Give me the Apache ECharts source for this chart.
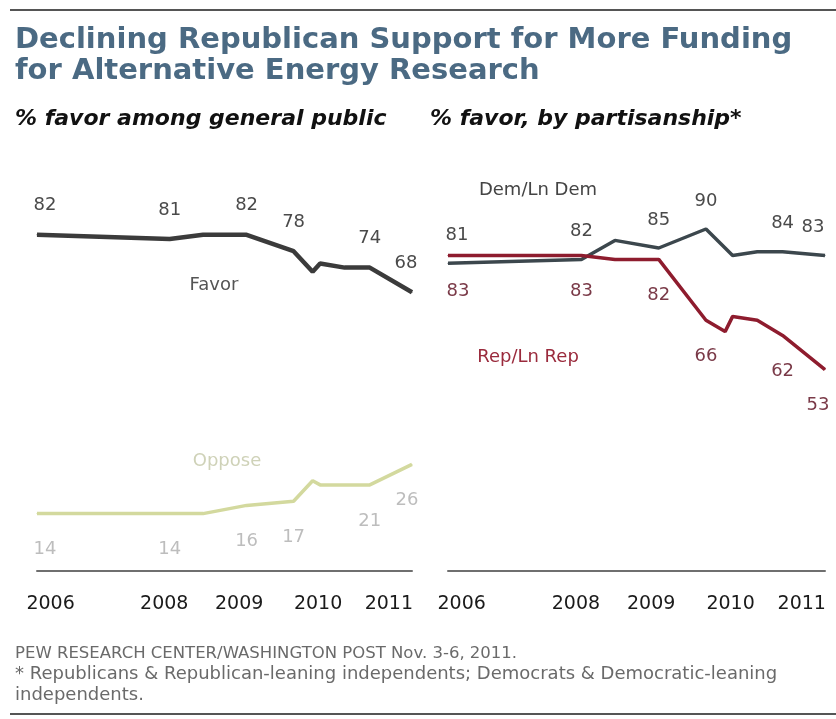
<!DOCTYPE html>
<html><head><meta charset="utf-8">
<script src="https://cdn.jsdelivr.net/npm/echarts@6/dist/echarts.min.js"></script>
<style>html,body{margin:0;padding:0;background:#fff}#c{width:836px;height:719px}</style>
</head><body><div id="c"></div>
<script>
// Survey dates as decimal years
const surveyDates = [2006.33, 2008.28, 2008.77, 2009.41, 2010.10, 2010.38, 2010.49, 2010.85, 2011.22, 2011.84];
// % favor among general public
const favor  = [82, 81, 82, 82, 78, 73, 75, 74, 74, 68];
const oppose = [14, 14, 14, 16, 17, 22, 21, 21, 21, 26];
// % favor, by partisanship
const dem = [81, 82, 87, 85, 90, 85, 83, 84, 84, 83];
const rep = [83, 83, 82, 82, 66, 63, 67, 66, 62, 53];
// which survey points carry a value label
const labeledIdx = [0, 1, 3, 4, 8, 9];
// x-axis tick labels and where they sit
const tickLabels = ['2006', '2008', '2009', '2010', '2011'];
const tickPos = [2006.53, 2008.20, 2009.30, 2010.46, 2011.50];

const chart = echarts.init(document.getElementById('c'));
const numFont = 'DejaVu Sans';

function mkData(vals, color, dy, dxFirst, dxLast) {
  return vals.map((v, i) => {
    const show = labeledIdx.indexOf(i) >= 0;
    let dx = 0;
    if (i === 0) dx = dxFirst;
    if (i === vals.length - 1) dx = dxLast;
    return {
      value: [surveyDates[i], v],
      label: { show: show, position: 'inside', offset: [dx, dy], color: color,
               fontFamily: numFont, fontSize: 18 }
    };
  });
}
function mkSeries(name, vals, lineColor, width, labColor, dy, dxF, dxL, gi) {
  return {
    name: name, type: 'line', xAxisIndex: gi, yAxisIndex: gi,
    data: mkData(vals, labColor, dy, dxF, dxL),
    symbol: 'circle', symbolSize: 1, showSymbol: true,
    itemStyle: { color: lineColor },
    lineStyle: { color: lineColor, width: width },
    silent: true, animation: false, z: name === 'Rep/Ln Rep' ? 3 : 2
  };
}
const xAx = (gi) => ({
  type: 'value', gridIndex: gi, min: surveyDates[0], max: surveyDates[surveyDates.length - 1],
  splitLine: { show: false },
  axisLine: { show: true, lineStyle: { color: '#6f6f6f', width: 2 } },
  axisTick: { show: false },
  axisLabel: {
    customValues: tickPos, showMinLabel: true, showMaxLabel: true,
    formatter: (v) => tickLabels[tickPos.indexOf(v)] ?? '',
    color: '#1a1a1a', fontFamily: numFont, fontSize: 19, margin: 24
  }
});
const yAx = (gi) => ({ type: 'value', gridIndex: gi, min: 0, max: 100, show: false, splitLine: { show: false } });

chart.setOption({
  animation: false,
  backgroundColor: '#fff',
  grid: [
    { left: 37, right: 424, top: 161, bottom: 148 },
    { left: 448, right: 11, top: 191, bottom: 148 }
  ],
  xAxis: [xAx(0), xAx(1)],
  yAxis: [yAx(0), yAx(1)],
  series: [
    mkSeries('Favor', favor, '#3b3b3b', 4.5, '#4a4a4a', -29, 8, -6, 0),
    mkSeries('Oppose', oppose, '#d3d99e', 3.5, '#bdbdbd', 36, 8, -5, 0),
    mkSeries('Dem/Ln Dem', dem, '#3c474d', 3.5, '#4a4a4a', -28, 9, -12, 1),
    mkSeries('Rep/Ln Rep', rep, '#8e1c2e', 3.5, '#7a3a48', 36, 10, -7, 1)
  ],
  graphic: [
    { type: 'rect', shape: { x: 10, y: 9, width: 826, height: 2 }, style: { fill: '#555' } },
    { type: 'text', left: 15, top: 25, style: { text: 'Declining Republican Support for More Funding\nfor Alternative Energy Research',
      font: 'bold 29px "DejaVu Sans"', fill: '#4b6a83', lineHeight: 31 } },
    { type: 'text', left: 15, top: 108, style: { text: '% favor among general public',
      font: 'italic bold 22px "DejaVu Sans"', fill: '#111' } },
    { type: 'text', left: 430, top: 108, style: { text: '% favor, by partisanship*',
      font: 'italic bold 22px "DejaVu Sans"', fill: '#111' } },
    { type: 'text', x: 214, y: 285, style: { text: 'Favor', font: '18px "DejaVu Sans"', fill: '#555', align: 'center', verticalAlign: 'middle' } },
    { type: 'text', x: 227, y: 461, style: { text: 'Oppose', font: '18px "DejaVu Sans"', fill: '#cfd2b8', align: 'center', verticalAlign: 'middle' } },
    { type: 'text', x: 538, y: 190, style: { text: 'Dem/Ln Dem', font: '18px "DejaVu Sans"', fill: '#444', align: 'center', verticalAlign: 'middle' } },
    { type: 'text', x: 528, y: 357, style: { text: 'Rep/Ln Rep', font: '18px "DejaVu Sans"', fill: '#9a2a3c', align: 'center', verticalAlign: 'middle' } },
    { type: 'text', left: 15, top: 645, style: { text: 'PEW RESEARCH CENTER/WASHINGTON POST Nov. 3-6, 2011.',
      font: '16.5px "DejaVu Sans"', fill: '#6a6a6a' } },
    { type: 'text', left: 15, top: 664, style: { text: '* Republicans & Republican-leaning independents; Democrats & Democratic-leaning\nindependents.',
      font: '18px "DejaVu Sans"', fill: '#6a6a6a', lineHeight: 21 } },
    { type: 'rect', shape: { x: 10, y: 713, width: 826, height: 2 }, style: { fill: '#555' } }
  ]
});
</script></body></html>
